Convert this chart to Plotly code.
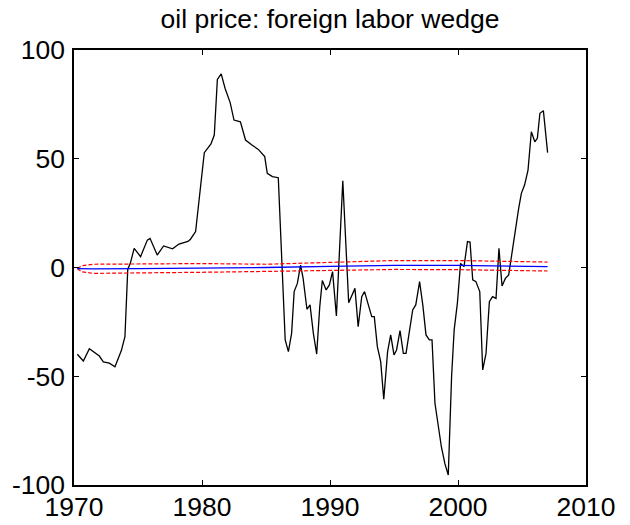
import plotly.graph_objects as go

years = [1970.26, 1970.73, 1971.20, 1971.98, 1972.29, 1972.76, 1973.20, 1973.70, 1973.98, 1974.20,
         1974.40, 1974.70, 1975.20, 1975.73, 1975.94, 1976.50, 1977.00, 1977.70, 1978.20, 1978.90,
         1979.10, 1979.50, 1980.18, 1980.70, 1980.96, 1981.20, 1981.50, 1981.80, 1982.20, 1982.50,
         1983.00, 1983.40, 1983.90, 1984.40, 1984.90, 1985.10, 1985.50, 1985.96, 1986.50, 1986.75,
         1987.00, 1987.20, 1987.45, 1987.70, 1987.90, 1988.20, 1988.44, 1988.70, 1988.96, 1989.20,
         1989.40, 1989.70, 1989.95, 1990.20, 1990.50, 1991.00, 1991.46, 1991.95, 1992.20, 1992.48,
         1992.70, 1993.26, 1993.46, 1993.70, 1993.96, 1994.20, 1994.50, 1994.74, 1995.00, 1995.20,
         1995.47, 1995.73, 1995.94, 1996.25, 1996.46, 1996.70, 1997.00, 1997.25, 1997.50, 1997.76,
         1997.97, 1998.20, 1998.46, 1998.70, 1998.98, 1999.24, 1999.50, 1999.70, 1999.95, 2000.20,
         2000.47, 2000.74, 2000.94, 2001.15, 2001.40, 2001.70, 2001.93, 2002.19, 2002.45, 2002.70,
         2002.97, 2003.20, 2003.44, 2003.70, 2003.96, 2004.20, 2004.48, 2004.74, 2004.95, 2005.20,
         2005.47, 2005.73, 2006.00, 2006.20, 2006.40, 2006.67, 2007.00]
wedge = [-39.9, -43.0, -37.3, -40.7, -43.4, -44.0, -45.6, -38.2, -31.8, -0.8,
         1.9, 8.8, 5.0, 12.6, 13.4, 5.7, 9.9, 8.6, 10.8, 12.0,
         13.0, 16.5, 52.8, 56.8, 60.9, 86.5, 89.0, 82.4, 75.8, 67.8,
         67.0, 58.6, 56.3, 54.3, 51.0, 43.3, 41.8, 41.3, -33.3, -38.7,
         -30.3, -11.1, -7.3, 1.1, -5.0, -19.2, -17.2, -30.3, -39.8, -18.0,
         -6.0, -10.3, -8.0, -1.9, -22.3, 39.9, -16.2, -9.6, -27.2, -13.4,
         -11.1, -22.6, -22.6, -36.4, -43.3, -60.6, -38.7, -31.0, -40.2, -37.9,
         -29.0, -39.5, -39.5, -27.2, -19.5, -17.2, -6.5, -17.2, -31.0, -33.3,
         -33.3, -62.4, -73.2, -82.4, -90.3, -95.4, -50.0, -28.7, -16.5, 1.9,
         0.4, 11.9, 11.7, -5.7, -6.5, -11.1, -47.1, -39.5, -15.7, -13.4,
         -14.2, 8.8, -8.5, -5.0, -3.4, 6.5, 15.7, 27.2, 34.1, 37.9,
         44.8, 62.4, 57.8, 59.4, 70.9, 72.1, 52.8]

band_years = [1970.26, 1970.6, 1971.5, 1975.0, 1980.0, 1985.0, 1990.0, 1995.0, 2000.0, 2005.0, 2007.0]
response = [-0.5, -0.6, -0.6, -0.5, -0.3, 0.0, 0.5, 1.0, 1.0, 0.5, 0.4]
upper = [-0.5, 0.8, 1.5, 1.6, 1.8, 1.5, 2.4, 3.2, 3.2, 2.5, 2.5]
lower = [-0.5, -2.0, -2.7, -2.6, -2.2, -1.8, -1.3, -0.9, -1.0, -1.6, -1.6]

x_ticks = [1970, 1980, 1990, 2000, 2010]
y_ticks = [-100, -50, 0, 50, 100]

fig = go.Figure()
fig.add_trace(go.Scatter(x=years, y=wedge, mode="lines",
                         line=dict(color="black", width=1.3), showlegend=False))
fig.add_trace(go.Scatter(x=band_years, y=upper, mode="lines",
                         line=dict(color="red", width=1.2, dash="4px,2px"), showlegend=False))
fig.add_trace(go.Scatter(x=band_years, y=lower, mode="lines",
                         line=dict(color="red", width=1.2, dash="4px,2px"), showlegend=False))
fig.add_trace(go.Scatter(x=band_years, y=response, mode="lines",
                         line=dict(color="blue", width=1.3), showlegend=False))

font = "Liberation Sans, Arial, sans-serif"
FS = 26.5
W, H = 630, 525
fig.update_layout(
    width=W, height=H,
    margin=dict(l=74, r=44, t=50, b=40, autoexpand=False),
    paper_bgcolor="white", plot_bgcolor="white",
    title=dict(text="oil price: foreign labor wedge", x=0.5, xref="paper",
               y=1 - 19 / H, yanchor="middle",
               font=dict(family=font, size=FS, color="black")),
    font=dict(family=font, size=FS, color="black"),
)
fig.update_xaxes(range=[1970, 2010], tickvals=x_ticks, ticktext=[str(v) for v in x_ticks],
                 showgrid=False, zeroline=False, showline=True, linecolor="black", linewidth=1.5,
                 mirror="ticks", ticks="inside", ticklen=5, tickcolor="black", tickwidth=1,
                 ticklabelstandoff=-3, automargin=False,
                 tickfont=dict(family=font, size=FS, color="black"))
fig.update_yaxes(range=[-100, 100], tickvals=y_ticks, ticktext=[str(v) for v in y_ticks],
                 showgrid=False, zeroline=False, showline=True, linecolor="black", linewidth=1.5,
                 mirror="ticks", ticks="inside", ticklen=5, tickcolor="black", tickwidth=1,
                 ticklabelstandoff=2, automargin=False,
                 tickfont=dict(family=font, size=FS, color="black"))

fig.write_html("out.html", config={"displayModeBar": False},
               post_script="document.body.style.margin='0';document.body.style.overflow='hidden';")
